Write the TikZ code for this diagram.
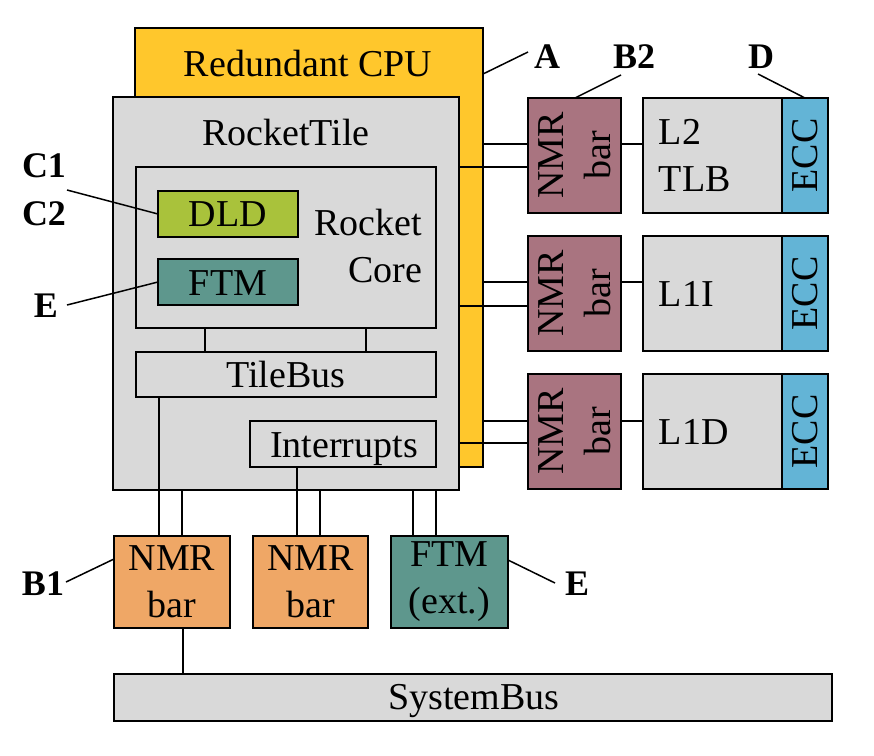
\documentclass[tikz,border=0pt]{standalone}
\usepackage{fontspec}
\setmainfont{Liberation Serif}
\usetikzlibrary{calc}
\definecolor{cpuyellow}{HTML}{FFC72C}
\definecolor{boxgray}{HTML}{D9D9D9}
\definecolor{dldgreen}{HTML}{A9C23B}
\definecolor{ftmteal}{HTML}{5E978D}
\definecolor{nmrmauve}{HTML}{A97480}
\definecolor{nmrorange}{HTML}{EFA766}
\definecolor{eccblue}{HTML}{63B4D6}
\begin{document}
\begin{tikzpicture}[x=1pt,y=-1pt,line width=1.7pt,
  box/.style={draw=black,anchor=north west,inner sep=0pt,outer sep=0pt},
  txt/.style={font=\fontsize{38}{47}\selectfont,inner sep=0pt},
  lbl/.style={font=\fontsize{36}{44}\selectfont\bfseries,inner sep=0pt},
  wire/.style={draw=black,line width=1.7pt}]
\useasboundingbox (0,0) rectangle (874,755);
% main boxes
\node[box,fill=cpuyellow,minimum width=348pt,minimum height=439pt] (cpu) at (135,28) {};
\node[txt,anchor=base] (cputxt) at (308,76) {Redundant CPU};
\node[box,fill=boxgray,minimum width=346pt,minimum height=393pt] (tile) at (113,97) {};
\node[txt,anchor=base] (tiletxt) at (286,145) {RocketTile};
\node[box,fill=boxgray,minimum width=300pt,minimum height=161pt] (core) at (136,167) {};
\node[txt,anchor=east,align=right] (coretxt) at (423,246) {Rocket\\Core};
\node[box,fill=dldgreen,minimum width=140pt,minimum height=46pt] (dld) at (158,191) {};
\node[txt,anchor=base] (dldtxt) at (228,226) {DLD};
\node[box,fill=ftmteal,minimum width=140pt,minimum height=46pt] (ftm) at (158,259) {};
\node[txt,anchor=base] (ftmtxt) at (228,295) {FTM};
\node[box,fill=boxgray,minimum width=300pt,minimum height=45pt] (tilebus) at (136,352) {};
\node[txt,anchor=base] (tilebustxt) at (286,387) {TileBus};
\node[box,fill=boxgray,minimum width=186pt,minimum height=46pt] (intr) at (250,421) {};
\node[txt,anchor=base] (intrtxt) at (344,457) {Interrupts};
% right column
\foreach \n/\y/\m in {1/98/{L2\\TLB},2/236/{L1I},3/374/{L1D}}{
  \node[box,fill=nmrmauve,minimum width=93pt,minimum height=115pt] (nmr\n) at (528,\y) {};
  \node[txt,rotate=90,align=center] (nmrtxt\n) at (nmr\n.center) {NMR\\bar};
  \node[box,fill=boxgray,minimum width=139pt,minimum height=115pt] (mem\n) at (643,\y) {};
  \node[txt,anchor=west,align=left] (memtxt\n) at ($(mem\n.west)+(15,0)$) {\m};
  \node[box,fill=eccblue,minimum width=46pt,minimum height=115pt] (ecc\n) at (782,\y) {};
  \node[txt,rotate=90] (ecctxt\n) at (ecc\n.center) {ECC};
}
% bottom boxes
\node[box,fill=nmrorange,minimum width=116pt,minimum height=92pt,txt,align=center] (nmrb1) at (114,536) {NMR\\bar};
\node[box,fill=nmrorange,minimum width=115pt,minimum height=92pt,txt,align=center] (nmrb2) at (253,536) {NMR\\bar};
\node[box,fill=ftmteal,minimum width=117pt,minimum height=92pt,txt,align=center] (ftmx) at (391,536) {FTM\\(ext.)};
\node[box,fill=boxgray,minimum width=718pt,minimum height=47pt] (sysbus) at (114,674) {};
\node[txt,anchor=base] (sysbustxt) at (474,709) {SystemBus};
% connections inside tile
\draw[wire] (core.south -| 205,0) -- (tilebus.north -| 205,0);
\draw[wire] (core.south -| 366,0) -- (tilebus.north -| 366,0);
% connections down
\draw[wire] (tilebus.south -| 159,0) -- (nmrb1.north -| 159,0);
\draw[wire] (tile.south -| 182,0) -- (nmrb1.north -| 182,0);
\draw[wire] (intr.south -| 297,0) -- (nmrb2.north -| 297,0);
\draw[wire] (tile.south -| 320,0) -- (nmrb2.north -| 320,0);
\draw[wire] (tile.south -| 413,0) -- (ftmx.north -| 413,0);
\draw[wire] (tile.south -| 436,0) -- (ftmx.north -| 436,0);
\draw[wire] (nmrb1.south -| 183,0) -- (sysbus.north -| 183,0);
% connections right
\foreach \n/\ya/\yb in {1/144/167,2/282/306,3/421/443}{
  \draw[wire] (cpu.east |- 0,\ya) -- (nmr\n.west |- 0,\ya);
  \draw[wire] (tile.east |- 0,\yb) -- (nmr\n.west |- 0,\yb);
  \draw[wire] (nmr\n.east |- 0,\ya) -- (mem\n.west |- 0,\ya);
}
% labels
\node[lbl,anchor=base] (la) at (547,68) {A};
\node[lbl,anchor=base] (lb2) at (634,68) {B2};
\node[lbl,anchor=base] (ld) at (761,68) {D};
\node[lbl,anchor=base] (lc1) at (44,177) {C1};
\node[lbl,anchor=base] (lc2) at (44,225) {C2};
\node[lbl,anchor=base] (le1) at (46,317) {E};
\node[lbl,anchor=base] (lb1) at (43,595) {B1};
\node[lbl,anchor=base] (le2) at (577,595) {E};
\coordinate (ca) at (528,52);
\coordinate (cb2) at (621,75);
\coordinate (cd) at (758,74);
\coordinate (cc) at (67,190);
\coordinate (ce1) at (67,305);
\coordinate (cb1) at (66,582);
\coordinate (ce2) at (555,583);
\draw[wire,line width=1.5pt] (cpu.east |- 0,74) -- (ca);
\draw[wire,line width=1.5pt] (nmr1.north -| 575,0) -- (cb2);
\draw[wire,line width=1.5pt] (ecc1.north) -- (cd);
\draw[wire,line width=1.5pt] (dld.west) -- (cc);
\draw[wire,line width=1.5pt] (ftm.west) -- (ce1);
\draw[wire,line width=1.5pt] (nmrb1.west |- 0,559) -- (cb1);
\draw[wire,line width=1.5pt] (ftmx.east |- 0,560) -- (ce2);
\end{tikzpicture}
\end{document}
